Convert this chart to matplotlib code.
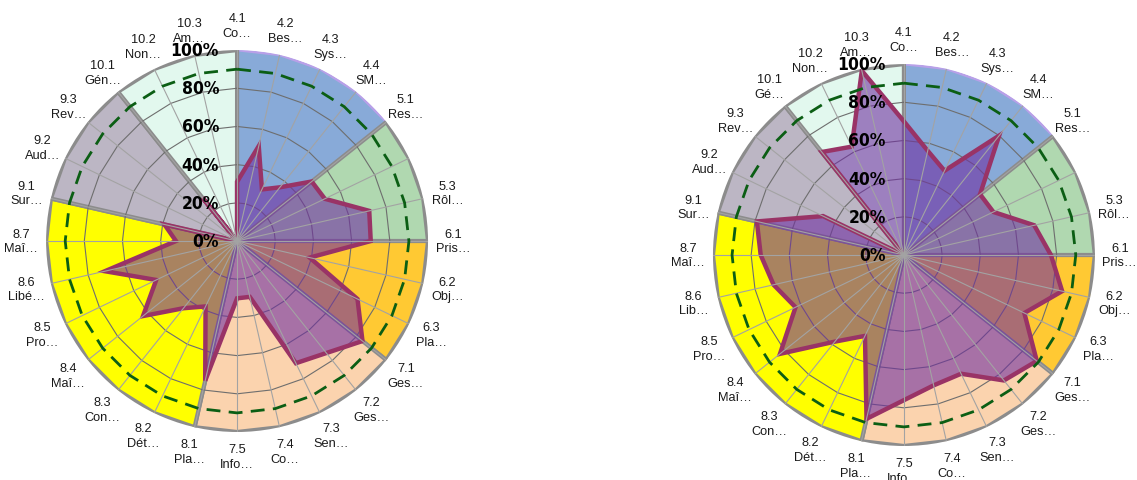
import numpy as np
import matplotlib
matplotlib.use('Agg')
import matplotlib.pyplot as plt
from matplotlib import font_manager

plt.rcParams['font.family'] = ['Liberation Sans', 'DejaVu Sans']

# spokes of the radar, 5.2 has no label on the original chart
codes = ['4.1', '4.2', '4.3', '4.4', '5.1', '5.2', '5.3', '6.1', '6.2', '6.3',
         '7.1', '7.2', '7.3', '7.4', '7.5', '8.1', '8.2', '8.3', '8.4', '8.5',
         '8.6', '8.7', '9.1', '9.2', '9.3', '10.1', '10.2', '10.3']

names_left = ['Co…', 'Bes…', 'Sys…', 'SM…', 'Res…', '', 'Rôl…', 'Pris…', 'Obj…', 'Pla…',
              'Ges…', 'Ges…', 'Sen…', 'Co…', 'Info…', 'Pla…', 'Dét…', 'Con…', 'Maî…', 'Pro…',
              'Libé…', 'Maî…', 'Sur…', 'Aud…', 'Rev…', 'Gén…', 'Non…', 'Am…']

names_right = ['Co…', 'Bes…', 'Sys…', 'SM…', 'Res…', '', 'Rôl…', 'Pris…', 'Obj…', 'Pla…',
               'Ges…', 'Ges…', 'Sen…', 'Co…', 'Info…', 'Pla…', 'Dét…', 'Con…', 'Maî…', 'Pro…',
               'Lib…', 'Maî…', 'Sur…', 'Aud…', 'Rev…', 'Gé…', 'Non…', 'Am…']

# scores in percent
score_left = [31, 51, 30, 36, 50, 51, 71, 70, 39, 70,
              84, 75, 71, 30, 30, 75, 38, 45, 63, 47,
              71, 32, 39, 0, 0, 29, 0, 0]

score_right = [70, 56, 49, 80, 51, 52, 70, 77, 85, 70,
               89, 84, 69, 70, 76, 88, 47, 58, 83, 63,
               70, 75, 79, 47, 0, 69, 63, 99]

target = 90
rings = [0, 20, 40, 60, 80, 100]

chapters = ['4', '5', '6', '7', '8', '9', '10']
chapter_colors = ['#88AAD8', '#B0D8B0', '#FFC933', '#FBD3AE', '#FFFF00', '#BCB6C4', '#E2F8EE']


def narrowFont():
    # the percent labels use a narrow bold face, pick whatever is installed
    fonts = font_manager.fontManager.ttflist
    names = set(f.name for f in fonts)
    if 'Liberation Sans Narrow' in names:
        return dict(family=['Liberation Sans Narrow', 'DejaVu Sans'], fontsize=13)
    for f in fonts:
        if f.name == 'DejaVu Sans' and f.stretch == 'condensed':
            return dict(family=['DejaVu Sans'], fontstretch='condensed', fontsize=12.5)
    return dict(family=['Liberation Sans', 'DejaVu Sans'], fontsize=11)


def drawRadar(ax, scores, names):
    n = len(codes)
    theta = np.arange(n) * 2 * np.pi / n
    theta_closed = np.append(theta, 2 * np.pi)

    ax.set_theta_zero_location('N')
    ax.set_theta_direction(-1)
    ax.set_ylim(0, 100)
    ax.set_xticks([])
    ax.set_yticks([])
    ax.grid(False)
    ax.spines['polar'].set_visible(False)
    ax.set_facecolor('none')

    # chapter sectors, each one reaches the first spoke of the next chapter
    chap_of = [c.split('.')[0] for c in codes]
    for i, (chap, col) in enumerate(zip(chapters, chapter_colors)):
        idx = [k for k, c in enumerate(chap_of) if c == chap]
        th = list(theta[idx]) + [theta_closed[idx[-1] + 1]]
        edge = '#B8A0E8' if chap == '4' else '#8C8C8C'
        lw = 1.8 if chap == '4' else 3
        ax.fill([0] + th + [0], [0] + [100] * len(th) + [0],
                facecolor=col, edgecolor=edge, lw=lw, zorder=1 + i * 0.01)

    for r in rings[1:-1]:
        ax.plot(theta_closed, [r] * (n + 1), color='#6E6E6E', lw=0.8, zorder=2)

    vals = np.append(scores, scores[0])
    ax.fill(theta_closed, vals, facecolor=(0.44, 0.19, 0.63, 0.6),
            edgecolor='#993366', lw=3.2, joinstyle='miter', zorder=3)

    for t in theta:
        ax.plot([t, t], [0, 100], color='#A3A3A3', lw=0.8, zorder=4)

    ax.plot(theta_closed, [target] * (n + 1), color='#0B5E14', lw=2.0,
            ls=(0, (5, 3)), zorder=5)

    pct_font = narrowFont()
    for r in rings:
        ax.annotate('%d%%' % r, xy=(0, r), xytext=(-13, 0), textcoords='offset points',
                    ha='right', va='center', fontweight='bold', zorder=7, **pct_font)

    for t, code, name in zip(theta, codes, names):
        if not name:
            continue
        ax.text(t, 113, code + '\n' + name, ha='center', va='center',
                multialignment='center', fontsize=9.2, linespacing=1.3, color='#1A1A1A')


def main():
    fig = plt.figure(figsize=(11.37, 4.81), dpi=100)
    ax1 = fig.add_axes([0.0405, 0.0998, 0.336, 0.794], projection='polar')
    ax2 = fig.add_axes([0.627, 0.0707, 0.336, 0.794], projection='polar')
    drawRadar(ax1, score_left, names_left)
    drawRadar(ax2, score_right, names_right)
    fig.savefig('out.png', dpi=100)


if __name__ == "__main__":
    main()
